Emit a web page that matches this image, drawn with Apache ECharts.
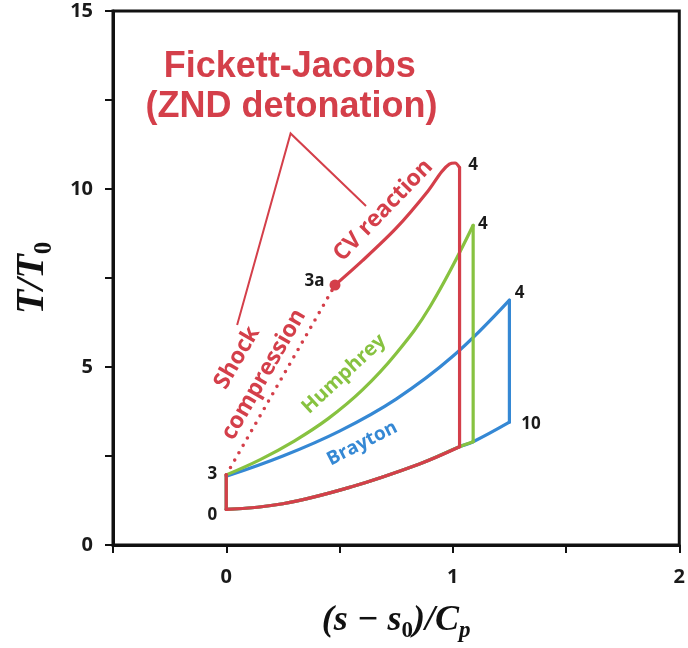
<!DOCTYPE html>
<html>
<head>
<meta charset="utf-8">
<script src="https://cdn.jsdelivr.net/npm/echarts@6/dist/echarts.min.js"></script>
<style>
  html, body { margin: 0; padding: 0; background: #fff; }
  #chart { width: 688px; height: 648px; }
</style>
</head>
<body>
<div id="chart"></div>
<script>
// T–s diagram of three ideal cycles: Brayton, Humphrey, Fickett-Jacobs (ZND)
// x: (s - s0)/Cp, y: T/T0

// Axis ticks
const xTicks = [-0.5, 0, 0.5, 1, 1.5, 2];
const yTicks = [0, 2.5, 5, 7.5, 10, 12.5, 15];

// Low-pressure isobar shared by all cycles (state 0 → exhaust end)
const lowIsobar = [[0, 1.0], [0.25, 1.16], [0.55, 1.63], [0.85, 2.27], [1.03, 2.76], [1.09, 2.9], [1.25, 3.45]];

// Compression 0 → 3 (isentropic)
const compression = [[0, 1.0], [0, 1.97]];

// Brayton: constant-pressure heat addition 3 → 4, expansion 4 → 10
const braytonHeat = [[0, 1.93], [0.25, 2.5], [0.5, 3.2], [0.75, 4.1], [1.0, 5.3], [1.25, 6.88]];
const braytonExpansion = [[1.25, 6.88], [1.25, 3.45]];

// Humphrey: constant-volume heat addition 3 → 4, expansion
const humphreyHeat = [[0, 1.97], [0.15, 2.4], [0.3, 2.92], [0.45, 3.55], [0.6, 4.35], [0.75, 5.38], [0.9, 6.7], [1.09, 8.98]];
const humphreyExpansion = [[1.09, 8.98], [1.09, 2.9]];

// Fickett-Jacobs: shock compression 3 → 3a, CV reaction 3a → 4, expansion
const shockCompression = [[0, 1.97], [0.48, 7.3]];
const cvReaction = [[0.48, 7.3], [0.6, 7.98], [0.75, 8.9], [0.89, 9.94], [0.95, 10.48], [0.985, 10.7], [1.01, 10.73], [1.03, 10.6]];
const fjExpansion = [[1.03, 10.6], [1.03, 2.76]];
const state3a = [[0.48, 7.3]];

// Leader lines from the Fickett-Jacobs title
const leader = [[0.048, 6.18], [0.284, 11.56], [0.617, 9.52]];

const RED = '#d43f4a', GREEN = '#87c240', BLUE = '#3588d4';

// Text placement (data coordinates) and rotation
const notes = [
  { text: 'Fickett-Jacobs', at: [0.28, 13.43], rot: 0, color: RED, size: 36, font: 'Liberation Sans' },
  { text: '(ZND detonation)', at: [0.288, 12.31], rot: 0, color: RED, size: 36, font: 'Liberation Sans' },
  { text: 'CV reaction', at: [0.693, 9.4], rot: 46, color: RED, size: 23, font: 'Open Sans' },
  { text: 'Shock', at: [0.048, 5.26], rot: 60, color: RED, size: 23, font: 'Open Sans' },
  { text: 'compression', at: [0.166, 4.79], rot: 60, color: RED, size: 23, font: 'Open Sans' },
  { text: 'Humphrey', at: [0.52, 4.8], rot: 43, color: GREEN, size: 20, font: 'Open Sans' },
  { text: 'Brayton', at: [0.6, 2.85], rot: 27, color: BLUE, size: 19, font: 'Open Sans' },
  { text: '3a', at: [0.39, 7.42], rot: 0, color: '#1a1a1a', size: 17, font: 'Open Sans' },
  { text: '3', at: [-0.061, 1.99], rot: 0, color: '#1a1a1a', size: 17, font: 'Open Sans' },
  { text: '0', at: [-0.061, 0.84], rot: 0, color: '#1a1a1a', size: 17, font: 'Open Sans' },
  { text: '4', at: [1.09, 10.66], rot: 0, color: '#1a1a1a', size: 17, font: 'Open Sans' },
  { text: '4', at: [1.133, 9.01], rot: 0, color: '#1a1a1a', size: 17, font: 'Open Sans' },
  { text: '4', at: [1.295, 7.08], rot: 0, color: '#1a1a1a', size: 17, font: 'Open Sans' },
  { text: '10', at: [1.345, 3.39], rot: 0, color: '#1a1a1a', size: 17, font: 'Open Sans' }
];

const upTo = (xEnd) => lowIsobar.filter(p => p[0] <= xEnd + 1e-9);

function line(data, color, opts) {
  return Object.assign({
    type: 'line', data: data, showSymbol: false, symbol: 'none', silent: true,
    lineStyle: { color: color, width: 3.2, cap: 'round', join: 'round' },
    z: 2, animation: false
  }, opts || {});
}

const chart = echarts.init(document.getElementById('chart'), null, { renderer: 'canvas' });

const axisCommon = {
  axisLine: { show: true, onZero: false, lineStyle: { color: '#111', width: 3 } },
  axisTick: { show: true, inside: false, length: 8, lineStyle: { color: '#111', width: 2 } },
  splitLine: { show: false },
};

const titleRich = {
  t: { fontFamily: 'Liberation Serif', fontStyle: 'italic', fontWeight: 'bold', color: '#111', verticalAlign: 'middle' },
  s0: { fontFamily: 'Liberation Serif', fontWeight: 'bold', color: '#111', verticalAlign: 'bottom' },
  sp: { fontFamily: 'Liberation Serif', fontStyle: 'italic', fontWeight: 'bold', color: '#111', verticalAlign: 'bottom' }
};
function richSized(big, small, lh) {
  const r = {};
  Object.keys(titleRich).forEach(k => {
    r[k] = Object.assign({}, titleRich[k], { fontSize: k === 't' ? big : small, lineHeight: lh });
  });
  return r;
}

chart.setOption({
  backgroundColor: '#fff',
  animation: false,
  grid: { left: 113, right: 2, top: 11, bottom: 100, show: true, borderColor: '#111', borderWidth: 3 },
  xAxis: Object.assign({
    type: 'value', min: xTicks[0], max: xTicks[xTicks.length - 1], interval: 0.5,
    axisLabel: {
      margin: 22, color: '#1a1a1a', fontSize: 20, fontWeight: 'bold', fontFamily: 'Open Sans',
      formatter: v => Number.isInteger(v) ? String(v) : ''
    },
    name: '{t|(s − s}{s0|0}{t|)/C}{sp|p}',
    nameLocation: 'middle', nameGap: 54,
    nameTextStyle: { rich: richSized(36, 23, 44) }
  }, axisCommon),
  yAxis: Object.assign({
    type: 'value', min: yTicks[0], max: yTicks[yTicks.length - 1], interval: 2.5,
    axisLabel: {
      margin: 20, color: '#1a1a1a', fontSize: 20, fontWeight: 'bold', fontFamily: 'Open Sans',
      formatter: v => (v % 5 === 0) ? String(v) : ''
    },
    name: '{t|T/T}{s0|0}',
    nameLocation: 'middle', nameGap: 56, nameRotate: 90,
    nameTextStyle: { rich: richSized(40, 25, 48) }
  }, axisCommon),
  series: [
    // Brayton
    line(upTo(1.25), BLUE, { smooth: 0.4 }),
    line(compression, BLUE),
    line(braytonHeat, BLUE, { smooth: 0.4 }),
    line(braytonExpansion, BLUE),
    // Humphrey
    line(upTo(1.09), GREEN, { smooth: 0.4, z: 3 }),
    line(compression, GREEN, { z: 3 }),
    line(humphreyHeat, GREEN, { smooth: 0.4, z: 3 }),
    line(humphreyExpansion, GREEN, { z: 3 }),
    // Fickett-Jacobs
    line(upTo(1.03), RED, { smooth: 0.4, z: 4 }),
    line(compression, RED, { z: 4 }),
    line(shockCompression, RED, { z: 4, lineStyle: { color: RED, width: 3.6, type: [0, 8.5], cap: 'round' } }),
    line(cvReaction, RED, { smooth: 0.3, z: 4 }),
    line(fjExpansion, RED, { z: 4 }),
    line(leader, RED, { z: 4, lineStyle: { color: RED, width: 2, join: 'miter' } }),
    {
      type: 'scatter', data: state3a, symbol: 'circle', symbolSize: 11, silent: true,
      itemStyle: { color: RED, opacity: 1 }, z: 5, animation: false
    },
    {
      type: 'scatter', silent: true, z: 6, animation: false, symbolSize: 0,
      itemStyle: { opacity: 1 },
      data: notes.map(n => ({
        value: n.at,
        label: {
          show: true, position: 'inside', formatter: n.text, rotate: n.rot, opacity: 1,
          color: n.color, fontSize: n.size, fontWeight: 'bold', fontFamily: n.font
        }
      }))
    }
  ]
});
</script>
</body>
</html>
